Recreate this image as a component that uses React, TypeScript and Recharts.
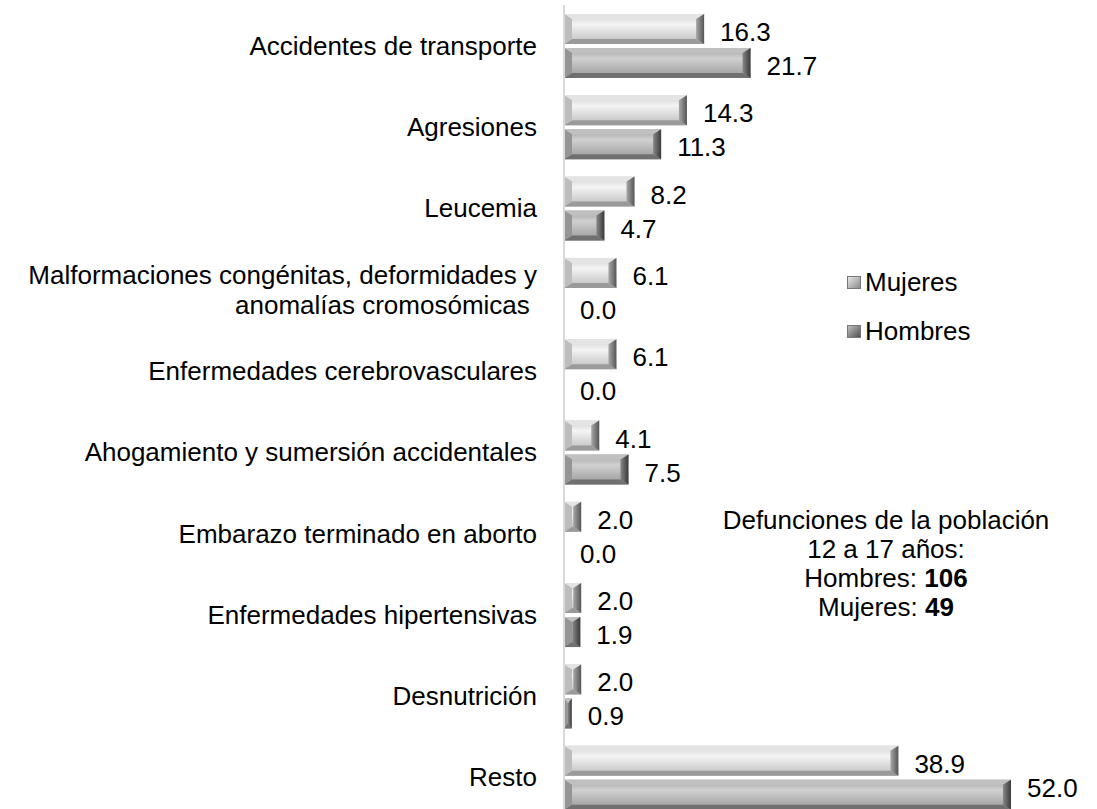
import React from "react";
import { BarChart, Bar, XAxis, YAxis, LabelList } from "recharts";

const CATEGORIES = [
  "Accidentes de transporte",
  "Agresiones",
  "Leucemia",
  "Malformaciones congénitas, deformidades y|anomalías cromosómicas ",
  "Enfermedades cerebrovasculares",
  "Ahogamiento y sumersión accidentales",
  "Embarazo terminado en aborto",
  "Enfermedades hipertensivas",
  "Desnutrición",
  "Resto",
];
const MUJERES = [16.3, 14.3, 8.2, 6.1, 6.1, 4.1, 2.0, 2.0, 2.0, 38.9];
const HOMBRES = [21.7, 11.3, 4.7, 0.0, 0.0, 7.5, 0.0, 1.9, 0.9, 52.0];
const SERIES = ["Mujeres", "Hombres"];
const TOTALS = { hombres: 106, mujeres: 49 };

const data = CATEGORIES.map((name, i) => ({
  name,
  Mujeres: MUJERES[i],
  Hombres: HOMBRES[i],
}));

const FONT = "'Liberation Sans', Arial, sans-serif";
const FS = 26;
const W = 1097;
const H = 809;

const PALETTE = {
  m: { id: "gm", top: "#e4e4e4", bottom: "#9a9a9a", left: "#bdbdbd", right: "gmr" },
  h: { id: "gh", top: "#c0c0c0", bottom: "#707070", left: "#959595", right: "ghr" },
};

// bevelled bar, like the office "bevel" bar style
const bevelShape = (p: typeof PALETTE.m) => (props: any) => {
  const { x, y, width, height } = props;
  if (!width || width <= 0) return <g />;
  const bx = Math.min(8, width / 2);
  const by = Math.min(5, height / 2);
  const r = x + width;
  const b = y + height;
  return (
    <g>
      <rect x={x} y={y} width={width} height={height} fill={`url(#${p.id})`} />
      <polygon points={`${x},${y} ${r},${y} ${r - bx},${y + by} ${x + bx},${y + by}`} fill={p.top} />
      <polygon points={`${x},${b} ${r},${b} ${r - bx},${b - by} ${x + bx},${b - by}`} fill={p.bottom} />
      <polygon points={`${x},${y} ${x + bx},${y + by} ${x + bx},${b - by} ${x},${b}`} fill={p.left} />
      <polygon points={`${r},${y} ${r - bx},${y + by} ${r - bx},${b - by} ${r},${b}`} fill={`url(#${p.right})`} />
    </g>
  );
};

const CategoryTick = (props: any) => {
  const { x, y, payload } = props;
  const lines = String(payload.value).split("|");
  const lh = 30;
  const start = y - ((lines.length - 1) * lh) / 2;
  return (
    <text x={x} textAnchor="end" fontFamily={FONT} fontSize={FS} fill="#000" style={{ whiteSpace: "pre" }}>
      {lines.map((l, i) => (
        <tspan key={i} x={x} y={start + i * lh} dy="0.35em">
          {l}
        </tspan>
      ))}
    </text>
  );
};

const ValueLabel = (props: any) => {
  const { x, y, width, height, value } = props;
  // keep the last label inside the picture, as the original does
  const cy = Math.min(y + height / 2 + 3, H - 21);
  return (
    <text
      x={x + Math.max(width, 0) + 16}
      y={cy}
      dominantBaseline="central"
      fontFamily={FONT}
      fontSize={FS}
      fill="#000"
    >
      {Number(value).toFixed(1)}
    </text>
  );
};

const LEGEND_SWATCH = [
  { from: "#e8e8e8", to: "#8a8a8a" },
  { from: "#c0c0c0", to: "#505050" },
];

export default function App() {
  return (
    <div
      style={{
        position: "absolute",
        left: 0,
        top: 0,
        width: W,
        height: H,
        overflow: "hidden",
        background: "#fff",
      }}
    >
      <BarChart
        width={W}
        height={831}
        data={data}
        layout="vertical"
        margin={{ top: 5, right: 86, bottom: 13, left: 0 }}
        barSize={30}
        barGap={4}
      >
        <defs>
          <linearGradient id="gm" x1="0" y1="0" x2="0" y2="1">
            <stop offset="0%" stopColor="#d0d0d0" />
            <stop offset="35%" stopColor="#f4f4f4" />
            <stop offset="100%" stopColor="#bcbcbc" />
          </linearGradient>
          <linearGradient id="gh" x1="0" y1="0" x2="0" y2="1">
            <stop offset="0%" stopColor="#a2a2a2" />
            <stop offset="35%" stopColor="#d0d0d0" />
            <stop offset="100%" stopColor="#999" />
          </linearGradient>
          <linearGradient id="gmr" x1="0" y1="0" x2="1" y2="0">
            <stop offset="0%" stopColor="#a8a8a8" />
            <stop offset="100%" stopColor="#555" />
          </linearGradient>
          <linearGradient id="ghr" x1="0" y1="0" x2="1" y2="0">
            <stop offset="0%" stopColor="#888" />
            <stop offset="100%" stopColor="#3a3a3a" />
          </linearGradient>
        </defs>
        <XAxis type="number" domain={[0, 52]} hide />
        <YAxis
          type="category"
          dataKey="name"
          width={564}
          tickLine={false}
          tickSize={0}
          tickMargin={27}
          axisLine={{ stroke: "#d9d9d9", strokeWidth: 2 }}
          tick={<CategoryTick />}
          interval={0}
        />
        <Bar dataKey="Mujeres" isAnimationActive={false} shape={bevelShape(PALETTE.m)}>
          <LabelList dataKey="Mujeres" content={<ValueLabel />} />
        </Bar>
        <Bar dataKey="Hombres" isAnimationActive={false} shape={bevelShape(PALETTE.h)}>
          <LabelList dataKey="Hombres" content={<ValueLabel />} />
        </Bar>
      </BarChart>
      <div
        style={{
          position: "absolute",
          left: 847,
          top: 258,
          fontFamily: FONT,
          fontSize: FS,
          color: "#000",
        }}
      >
        {SERIES.map((name, i) => (
          <div key={name} style={{ display: "flex", alignItems: "center", height: 49 }}>
            <span
              style={{
                display: "inline-block",
                width: 14,
                height: 13,
                marginRight: 4,
                background: `linear-gradient(135deg, ${LEGEND_SWATCH[i].from}, ${LEGEND_SWATCH[i].to})`,
                border: "1px solid #777",
                boxSizing: "border-box",
              }}
            />
            {name}
          </div>
        ))}
      </div>
      <div
        style={{
          position: "absolute",
          left: 706,
          top: 506,
          width: 360,
          textAlign: "center",
          fontFamily: FONT,
          fontSize: FS,
          lineHeight: "29px",
          color: "#000",
        }}
      >
        Defunciones de la población
        <br />
        12 a 17 años:
        <br />
        Hombres: <b>{TOTALS.hombres}</b>
        <br />
        Mujeres: <b>{TOTALS.mujeres}</b>
      </div>
    </div>
  );
}
